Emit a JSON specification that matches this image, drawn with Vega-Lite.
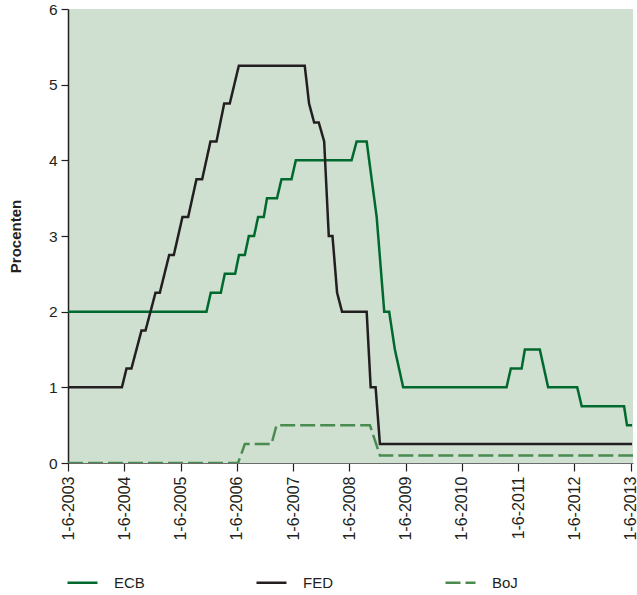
{
  "$schema": "https://vega.github.io/schema/vega-lite/v6.json",
  "width": 565,
  "height": 454,
  "autosize": {"type": "none"},
  "padding": {"left": 68, "top": 9, "right": 4, "bottom": 132},
  "background": "#ffffff",
  "config": {
    "font": "Liberation Sans",
    "view": {"fill": "#cfdfd0", "stroke": null}
  },
  "data": {
    "values": [
      {"bank": "BoJ", "date": "2003-06-01", "rate": 0},
      {"bank": "BoJ", "date": "2006-06-09", "rate": 0},
      {"bank": "BoJ", "date": "2006-07-23", "rate": 0.25},
      {"bank": "BoJ", "date": "2007-01-12", "rate": 0.25},
      {"bank": "BoJ", "date": "2007-02-14", "rate": 0.5},
      {"bank": "BoJ", "date": "2008-10-12", "rate": 0.5},
      {"bank": "BoJ", "date": "2008-12-16", "rate": 0.1},
      {"bank": "BoJ", "date": "2013-06-16", "rate": 0.1},
      {"bank": "ECB", "date": "2003-06-01", "rate": 2.0},
      {"bank": "ECB", "date": "2005-11-16", "rate": 2.0},
      {"bank": "ECB", "date": "2005-12-14", "rate": 2.25},
      {"bank": "ECB", "date": "2006-02-17", "rate": 2.25},
      {"bank": "ECB", "date": "2006-03-15", "rate": 2.5},
      {"bank": "ECB", "date": "2006-05-21", "rate": 2.5},
      {"bank": "ECB", "date": "2006-06-15", "rate": 2.75},
      {"bank": "ECB", "date": "2006-07-23", "rate": 2.75},
      {"bank": "ECB", "date": "2006-08-18", "rate": 3.0},
      {"bank": "ECB", "date": "2006-09-21", "rate": 3.0},
      {"bank": "ECB", "date": "2006-10-17", "rate": 3.25},
      {"bank": "ECB", "date": "2006-11-23", "rate": 3.25},
      {"bank": "ECB", "date": "2006-12-14", "rate": 3.5},
      {"bank": "ECB", "date": "2007-02-17", "rate": 3.5},
      {"bank": "ECB", "date": "2007-03-18", "rate": 3.75},
      {"bank": "ECB", "date": "2007-05-22", "rate": 3.75},
      {"bank": "ECB", "date": "2007-06-19", "rate": 4.0},
      {"bank": "ECB", "date": "2008-06-15", "rate": 4.0},
      {"bank": "ECB", "date": "2008-07-18", "rate": 4.25},
      {"bank": "ECB", "date": "2008-09-21", "rate": 4.25},
      {"bank": "ECB", "date": "2008-11-25", "rate": 3.25},
      {"bank": "ECB", "date": "2009-01-13", "rate": 2.0},
      {"bank": "ECB", "date": "2009-02-14", "rate": 2.0},
      {"bank": "ECB", "date": "2009-03-23", "rate": 1.5},
      {"bank": "ECB", "date": "2009-05-16", "rate": 1.0},
      {"bank": "ECB", "date": "2011-03-18", "rate": 1.0},
      {"bank": "ECB", "date": "2011-04-15", "rate": 1.25},
      {"bank": "ECB", "date": "2011-06-24", "rate": 1.25},
      {"bank": "ECB", "date": "2011-07-15", "rate": 1.5},
      {"bank": "ECB", "date": "2011-10-20", "rate": 1.5},
      {"bank": "ECB", "date": "2011-12-13", "rate": 1.0},
      {"bank": "ECB", "date": "2012-06-19", "rate": 1.0},
      {"bank": "ECB", "date": "2012-07-18", "rate": 0.75},
      {"bank": "ECB", "date": "2013-04-19", "rate": 0.75},
      {"bank": "ECB", "date": "2013-05-08", "rate": 0.5},
      {"bank": "ECB", "date": "2013-06-10", "rate": 0.5},
      {"bank": "FED", "date": "2003-06-01", "rate": 1.0},
      {"bank": "FED", "date": "2004-05-16", "rate": 1.0},
      {"bank": "FED", "date": "2004-06-15", "rate": 1.25},
      {"bank": "FED", "date": "2004-07-17", "rate": 1.25},
      {"bank": "FED", "date": "2004-09-20", "rate": 1.75},
      {"bank": "FED", "date": "2004-10-16", "rate": 1.75},
      {"bank": "FED", "date": "2004-12-20", "rate": 2.25},
      {"bank": "FED", "date": "2005-01-17", "rate": 2.25},
      {"bank": "FED", "date": "2005-03-19", "rate": 2.75},
      {"bank": "FED", "date": "2005-04-18", "rate": 2.75},
      {"bank": "FED", "date": "2005-06-13", "rate": 3.25},
      {"bank": "FED", "date": "2005-07-20", "rate": 3.25},
      {"bank": "FED", "date": "2005-09-12", "rate": 3.75},
      {"bank": "FED", "date": "2005-10-19", "rate": 3.75},
      {"bank": "FED", "date": "2005-12-12", "rate": 4.25},
      {"bank": "FED", "date": "2006-01-20", "rate": 4.25},
      {"bank": "FED", "date": "2006-03-11", "rate": 4.75},
      {"bank": "FED", "date": "2006-04-16", "rate": 4.75},
      {"bank": "FED", "date": "2006-06-14", "rate": 5.25},
      {"bank": "FED", "date": "2007-08-16", "rate": 5.25},
      {"bank": "FED", "date": "2007-09-13", "rate": 4.75},
      {"bank": "FED", "date": "2007-10-16", "rate": 4.5},
      {"bank": "FED", "date": "2007-11-15", "rate": 4.5},
      {"bank": "FED", "date": "2007-12-20", "rate": 4.25},
      {"bank": "FED", "date": "2008-01-19", "rate": 3.0},
      {"bank": "FED", "date": "2008-02-12", "rate": 3.0},
      {"bank": "FED", "date": "2008-03-13", "rate": 2.25},
      {"bank": "FED", "date": "2008-04-14", "rate": 2.0},
      {"bank": "FED", "date": "2008-09-21", "rate": 2.0},
      {"bank": "FED", "date": "2008-10-17", "rate": 1.0},
      {"bank": "FED", "date": "2008-11-18", "rate": 1.0},
      {"bank": "FED", "date": "2008-12-16", "rate": 0.25},
      {"bank": "FED", "date": "2013-06-10", "rate": 0.25}
    ]
  },
  "mark": {"type": "line", "strokeWidth": 2.5, "clip": true},
  "encoding": {
    "x": {
      "field": "date",
      "type": "temporal",
      "scale": {
        "type": "utc",
        "domain": [
          {"year": 2003, "month": 6, "date": 1, "utc": true},
          {"year": 2013, "month": 6, "date": 16, "utc": true}
        ]
      },
      "axis": {
        "title": null,
        "grid": false,
        "values": [
          {"year": 2003, "month": 6, "date": 1, "utc": true},
          {"year": 2004, "month": 6, "date": 1, "utc": true},
          {"year": 2005, "month": 6, "date": 1, "utc": true},
          {"year": 2006, "month": 6, "date": 1, "utc": true},
          {"year": 2007, "month": 6, "date": 1, "utc": true},
          {"year": 2008, "month": 6, "date": 1, "utc": true},
          {"year": 2009, "month": 6, "date": 1, "utc": true},
          {"year": 2010, "month": 6, "date": 1, "utc": true},
          {"year": 2011, "month": 6, "date": 1, "utc": true},
          {"year": 2012, "month": 6, "date": 1, "utc": true},
          {"year": 2013, "month": 6, "date": 1, "utc": true}
        ],
        "labelExpr": "utcFormat(datum.value, '%-d-%-m-%Y')",
        "labelAngle": 270,
        "labelAlign": "right",
        "labelBaseline": "middle",
        "labelFontSize": 16,
        "labelColor": "#231f20",
        "labelPadding": 5,
        "labelDy": 2,
        "labelOverlap": false,
        "labelFlush": false,
        "tickSize": 8,
        "tickColor": "#231f20",
        "tickWidth": 1.2,
        "domainColor": "#6b6b6b",
        "domainWidth": 1
      }
    },
    "y": {
      "field": "rate",
      "type": "quantitative",
      "scale": {"domain": [0, 6], "nice": false, "zero": true},
      "axis": {
        "title": "Procenten",
        "titleFontSize": 15,
        "titleFontWeight": "bold",
        "titleColor": "#231f20",
        "titleAngle": 270,
        "titleAlign": "center",
        "titleBaseline": "middle",
        "titleX": -53,
        "titleY": 227,
        "grid": false,
        "values": [0, 1, 2, 3, 4, 5, 6],
        "labelFontSize": 15.5,
        "labelColor": "#231f20",
        "labelPadding": 4,
        "tickSize": 7,
        "tickColor": "#231f20",
        "tickWidth": 1.2,
        "domainColor": "#231f20",
        "domainWidth": 1.5
      }
    },
    "color": {
      "field": "bank",
      "type": "nominal",
      "scale": {"domain": ["ECB", "FED", "BoJ"], "range": ["#00692d", "#231f20", "#4a8c50"]},
      "legend": {
        "title": null,
        "orient": "none",
        "legendX": -2,
        "legendY": 557,
        "direction": "horizontal",
        "columns": 3,
        "gridAlign": "all",
        "columnPadding": 106,
        "symbolType": "stroke",
        "symbolSize": 900,
        "symbolStrokeWidth": 2.5,
        "labelFontSize": 15,
        "labelColor": "#231f20",
        "labelOffset": 15
      }
    },
    "strokeDash": {
      "field": "bank",
      "type": "nominal",
      "scale": {"domain": ["ECB", "FED", "BoJ"], "range": [[1, 0], [1, 0], [15, 5]]},
      "legend": {
        "title": null,
        "orient": "none",
        "legendX": -2,
        "legendY": 557,
        "direction": "horizontal",
        "columns": 3,
        "gridAlign": "all",
        "columnPadding": 106,
        "symbolType": "stroke",
        "symbolSize": 900,
        "symbolStrokeWidth": 2.5,
        "labelFontSize": 15,
        "labelColor": "#231f20",
        "labelOffset": 15
      }
    }
  }
}
